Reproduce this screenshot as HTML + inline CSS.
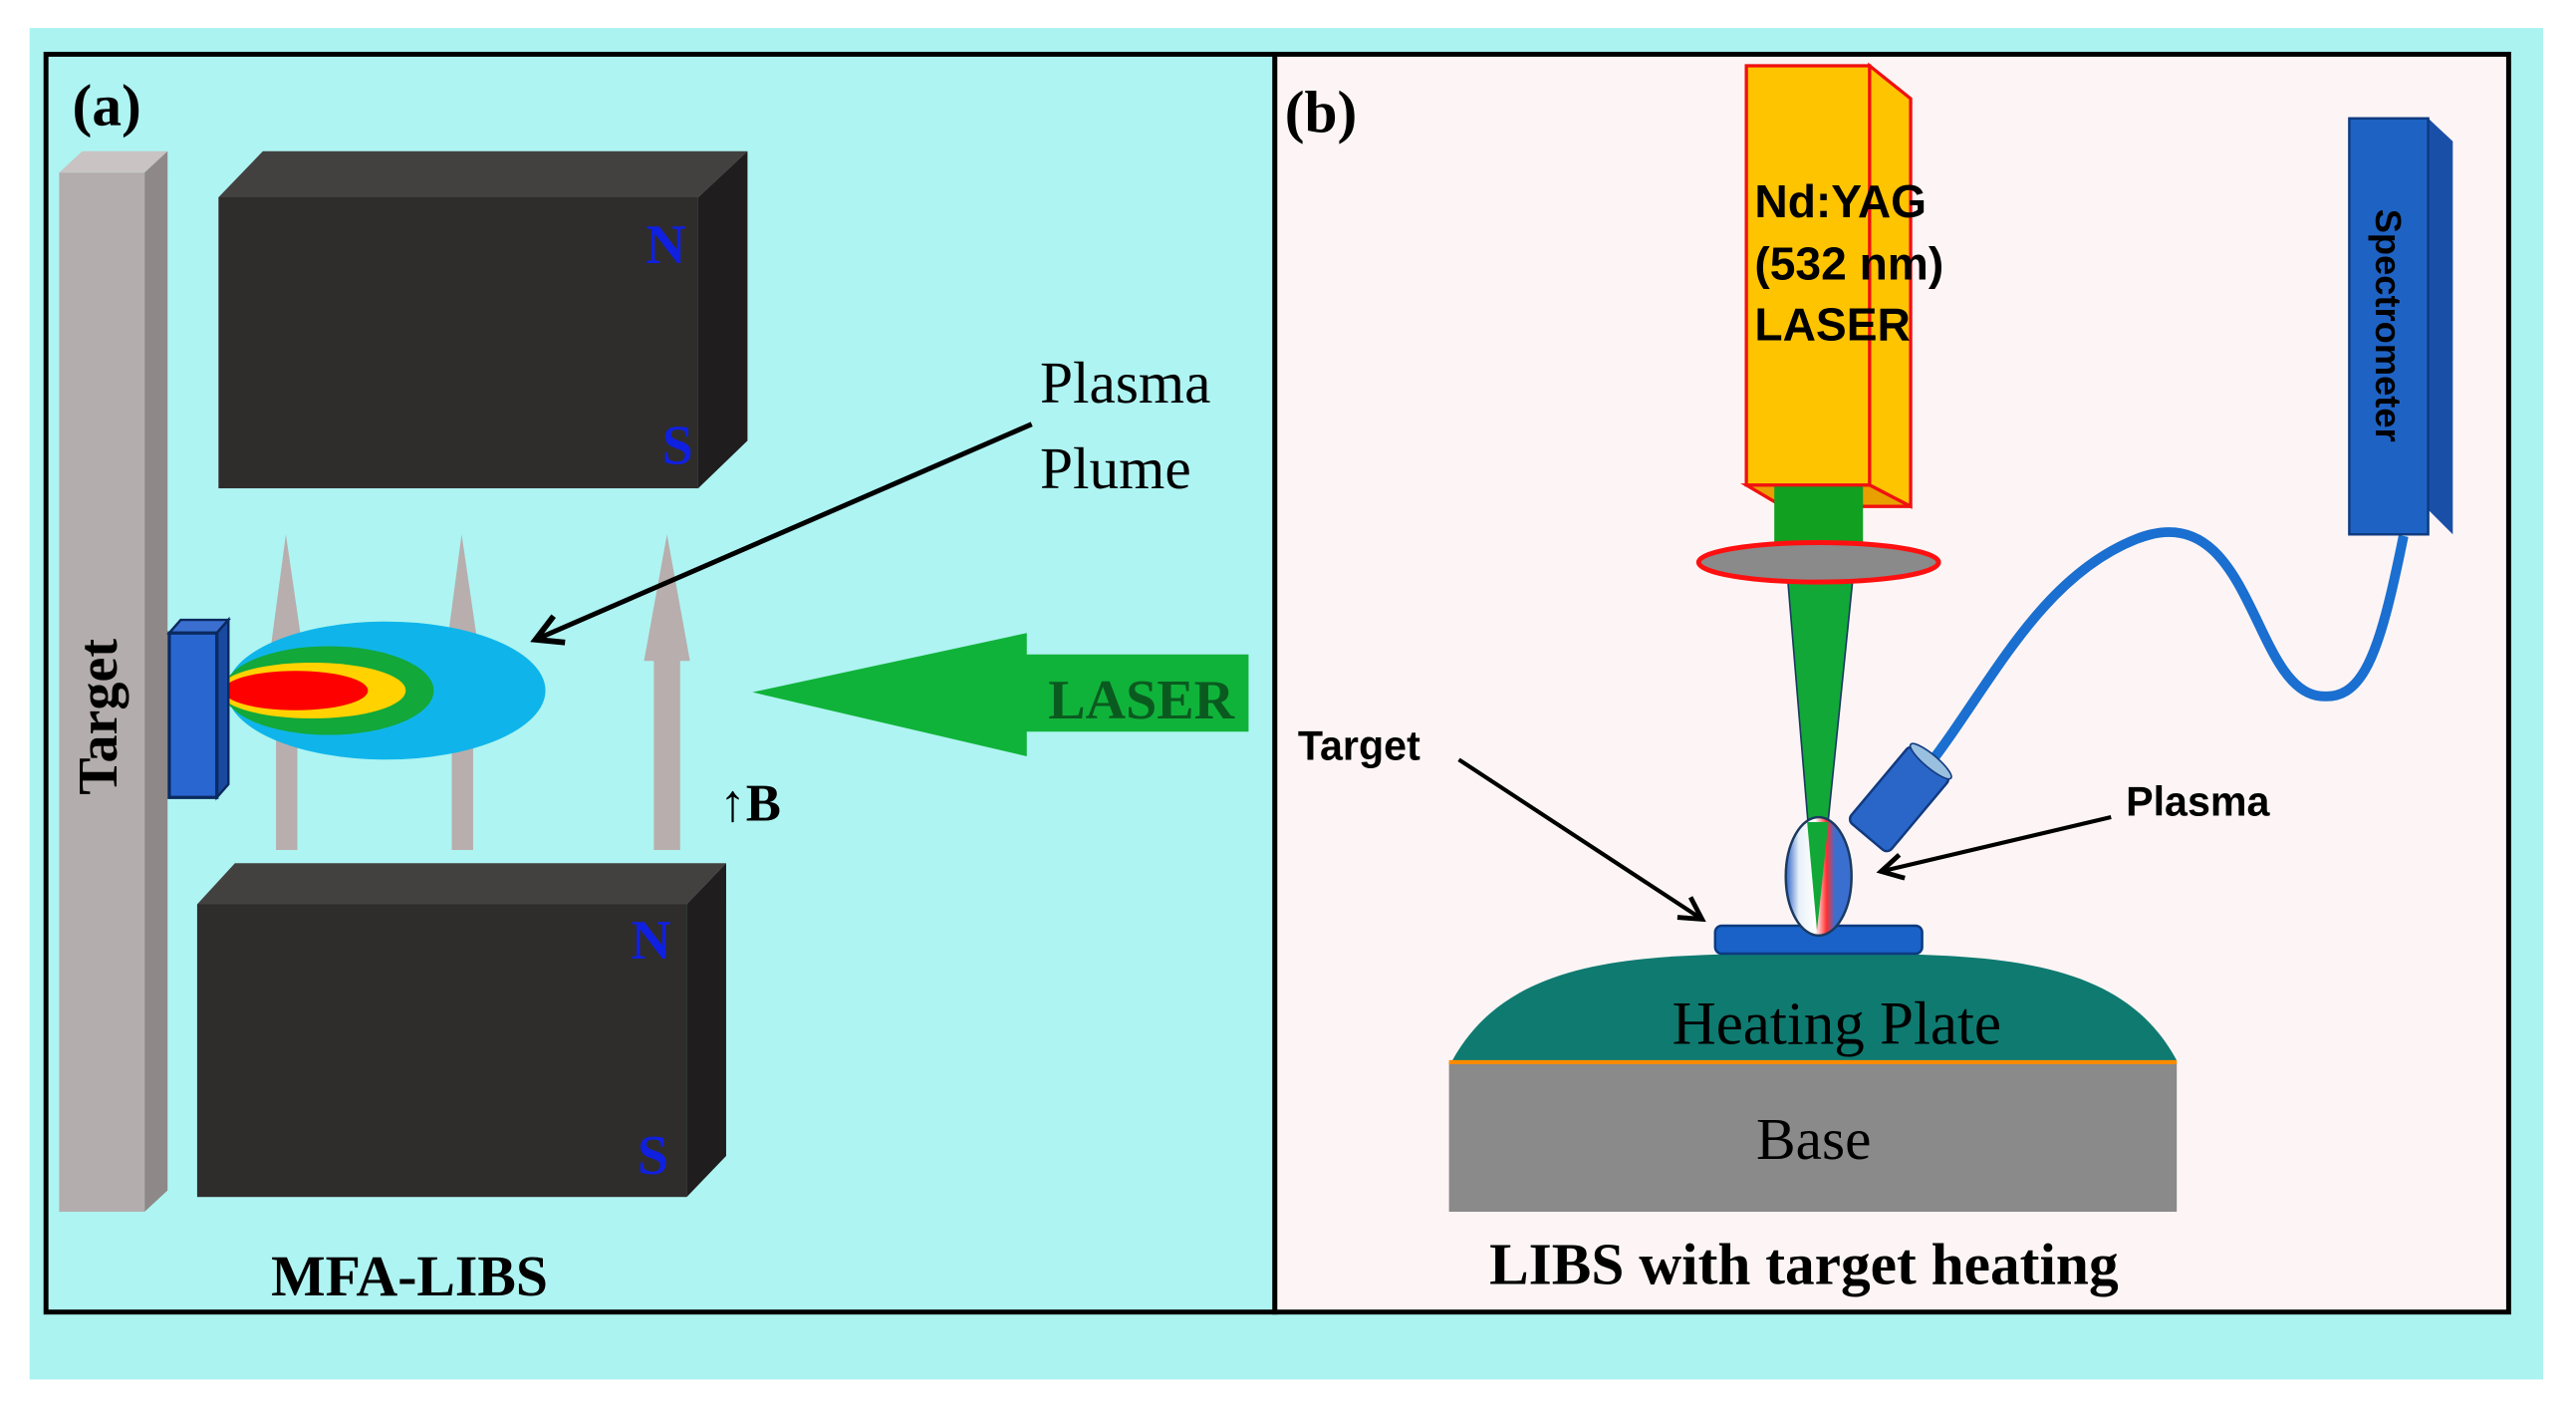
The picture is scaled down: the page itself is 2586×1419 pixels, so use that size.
<!DOCTYPE html>
<html><head><meta charset="utf-8"><style>
html,body{margin:0;padding:0;background:#fff;width:2586px;height:1419px;overflow:hidden}
svg{display:block}
.serif{font-family:"Liberation Serif",serif}
.sans{font-family:"Liberation Sans",sans-serif}
</style></head><body>
<svg width="2586" height="1419" viewBox="0 0 1568 860" preserveAspectRatio="none" xmlns="http://www.w3.org/2000/svg">
<defs>
<marker id="ah" viewBox="0 0 12 12" refX="10" refY="6" markerWidth="7" markerHeight="7" orient="auto"><path d="M1,1 L10,6 L1,11" fill="none" stroke="#000" stroke-width="2"/></marker>
<linearGradient id="pl" x1="0" x2="1"><stop offset="0" stop-color="#2c63c8"/><stop offset="0.2" stop-color="#e8f0f8"/><stop offset="0.45" stop-color="#ffffff"/><stop offset="0.62" stop-color="#ff3030"/><stop offset="0.75" stop-color="#3a6fd0"/><stop offset="1" stop-color="#3a6fd0"/></linearGradient>
</defs>
<rect x="0" y="0" width="1568" height="860" fill="#fff"/>
<rect x="18" y="17" width="1530" height="822" fill="#aaf3f1"/>
<rect x="28" y="33" width="748" height="765" fill="#aef4f2" stroke="#000" stroke-width="3"/>
<rect x="776" y="33" width="751" height="765" fill="#fdf5f5" stroke="#000" stroke-width="3"/>

<polygon points="36,105 88,105 102,92 50,92" fill="#c9c3c3"/>
<polygon points="88,105 102,92 102,724 88,737" fill="#8e8888"/>
<rect x="36" y="105" width="52" height="632" fill="#b3adad"/>
<text class="serif" font-weight="bold" font-size="34" transform="translate(71,436) rotate(-90)" text-anchor="middle">Target</text>

<polygon points="133,120 160,92 455,92 425,120" fill="#434040"/>
<polygon points="425,120 455,92 455,268 425,297" fill="#1f1d1d"/>
<rect x="133" y="120" width="292" height="177" fill="#2f2c2c"/>
<text class="serif" font-weight="bold" font-size="34" fill="#1020e0" x="393" y="160">N</text>
<text class="serif" font-weight="bold" font-size="34" fill="#1020e0" x="403" y="282">S</text>
<polygon points="120,550 143,525 442,525 418,550" fill="#434040"/>
<polygon points="418,550 442,525 442,703 418,728" fill="#1f1d1d"/>
<rect x="120" y="550" width="298" height="178" fill="#2f2c2c"/>
<text class="serif" font-weight="bold" font-size="34" fill="#1020e0" x="384" y="583">N</text>
<text class="serif" font-weight="bold" font-size="34" fill="#1020e0" x="388" y="714">S</text>

<g fill="#b8aeae">
<polygon points="174,325 164,400 168,400 168,517 181,517 181,400 185,400"/>
<polygon points="281,325 271,400 275,400 275,517 288,517 288,400 292,400"/>
<polygon points="406,325 392,402 398,402 398,517 414,517 414,402 420,402"/>
</g>
<ellipse cx="235" cy="420" rx="97" ry="42" fill="#0fb5ea"/>
<ellipse cx="200" cy="420" rx="64" ry="27" fill="#12a83a"/>
<ellipse cx="190" cy="420" rx="57" ry="17" fill="#ffd200"/>
<ellipse cx="180" cy="420" rx="44" ry="12" fill="#ff0000"/>
<polygon points="103,385 110,377 139,377 132,385" fill="#3a6fd0" stroke="#0b2a60" stroke-width="1.5"/>
<polygon points="132,385 139,377 139,477 132,485" fill="#1a4aa0" stroke="#0b2a60" stroke-width="1.5"/>
<rect x="103" y="385" width="29" height="100" fill="#2a66d0" stroke="#0b2a60" stroke-width="2"/>

<line x1="628" y1="258" x2="326" y2="389" stroke="#000" stroke-width="3" marker-end="url(#ah)"/>
<text class="serif" font-size="36" x="633" y="245">Plasma</text>
<text class="serif" font-size="36" x="633" y="297">Plume</text>

<polygon points="458,421 625,385 625,398 760,398 760,445 625,445 625,460" fill="#10b33a"/>
<text class="serif" font-weight="bold" font-size="34" fill="#0a5a20" x="638" y="437">LASER</text>
<text class="serif" font-weight="bold" font-size="32" x="438" y="499">↑B</text>
<text class="serif" font-weight="bold" font-size="35" x="165" y="788">MFA-LIBS</text>
<text class="serif" font-weight="bold" font-size="36" x="44" y="76">(a)</text>

<text class="serif" font-weight="bold" font-size="36" x="782" y="80">(b)</text>
<polygon points="1138,40 1163,60 1163,308 1138,295" fill="#ffc400" stroke="#f01010" stroke-width="2"/>
<polygon points="1063,295 1138,295 1163,308 1085,308" fill="#e8a000" stroke="#f01010" stroke-width="2"/>
<rect x="1063" y="40" width="75" height="255" fill="#ffc400" stroke="#f01010" stroke-width="2"/>
<text class="sans" font-weight="bold" font-size="28" x="1068" y="132">Nd:YAG</text>
<text class="sans" font-weight="bold" font-size="28" x="1068" y="170">(532 nm)</text>
<text class="sans" font-weight="bold" font-size="28" x="1068" y="207">LASER</text>
<rect x="1080" y="296" width="54" height="42" fill="#12a020"/>
<polygon points="1088,350 1128,350 1106,566" fill="#12a838" stroke="#1a3a60" stroke-width="1"/>
<ellipse cx="1107" cy="342" rx="73" ry="12" fill="#8a8a8a" stroke="#ff1010" stroke-width="3"/>

<path d="M1463,326 C1448,400 1438,428 1410,423 C1370,415 1370,300 1300,328 C1240,352 1210,420 1172,468" fill="none" stroke="#1a6fd0" stroke-width="6"/>
<g transform="translate(1156,486) rotate(-50)">
<rect x="-30" y="-16" width="60" height="32" rx="4" fill="#2a66c8" stroke="#113a80" stroke-width="1.5"/>
<ellipse cx="30" cy="0" rx="4" ry="16" fill="#9ac0e0" stroke="#113a80" stroke-width="1"/>
</g>
<polygon points="1430,72 1478,72 1493,86 1445,86" fill="#5a90e0"/>
<polygon points="1478,72 1493,86 1493,325 1478,310" fill="#1a4fa8"/>
<rect x="1430" y="72" width="48" height="253" fill="#1e63c4" stroke="#0e3a80" stroke-width="1.5"/>
<text class="sans" font-weight="bold" font-size="22" transform="translate(1446,198) rotate(90)" text-anchor="middle">Spectrometer</text>

<path d="M884,645 C920,580 1000,580 1105,580 C1210,580 1290,580 1325,645 Z" fill="#0f7a70"/>
<rect x="882" y="646" width="443" height="91" fill="#8a8a8a"/>
<line x1="882" y1="646" x2="1325" y2="646" stroke="#ff8a00" stroke-width="2.5"/>
<text class="serif" font-size="37" x="1118" y="635" text-anchor="middle">Heating Plate</text>
<text class="serif" font-size="36" x="1104" y="705" text-anchor="middle">Base</text>

<rect x="1044" y="563" width="126" height="17" rx="4" fill="#1a62c8" stroke="#0c3a80" stroke-width="1.5"/>
<ellipse cx="1107" cy="533" rx="20" ry="36" fill="url(#pl)" stroke="#1a3a60" stroke-width="1.5"/>
<polygon points="1100,500 1113,500 1106,566" fill="#12a838"/>

<text class="sans" font-weight="bold" font-size="25" x="790" y="462">Target</text>
<line x1="888" y1="462" x2="1036" y2="559" stroke="#000" stroke-width="2.5" marker-end="url(#ah)"/>
<text class="sans" font-weight="bold" font-size="25" x="1294" y="496">Plasma</text>
<line x1="1285" y1="497" x2="1145" y2="530" stroke="#000" stroke-width="2.5" marker-end="url(#ah)"/>

<text class="serif" font-weight="bold" font-size="36" x="1098" y="781" text-anchor="middle">LIBS with target heating</text>
</svg>
</body></html>
